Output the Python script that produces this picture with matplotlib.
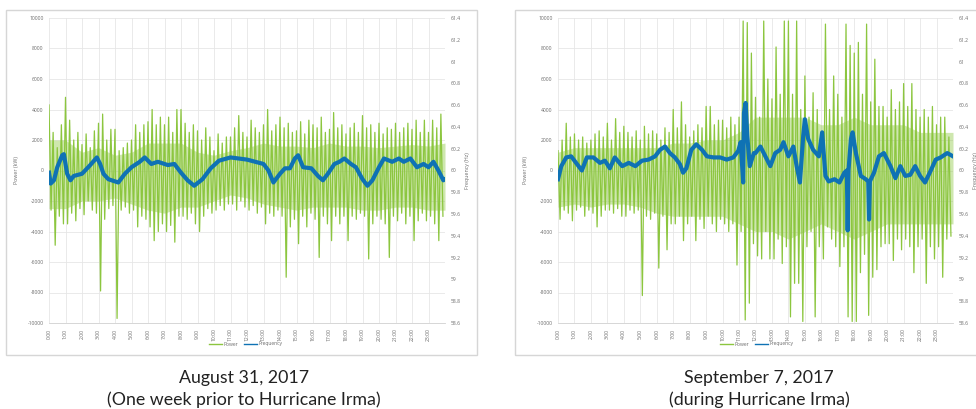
import numpy as np
import matplotlib
matplotlib.use("Agg")
import matplotlib.pyplot as plt
from matplotlib.patches import Rectangle
from matplotlib.lines import Line2D

plt.rcParams['font.family'] = ['Open Sans', 'DejaVu Sans']

# ---------------- data ----------------
hour_labels = [f"{h}:00" for h in range(24)]
power_ticks = [-10000, -8000, -6000, -4000, -2000, 0, 2000, 4000, 6000, 8000, 10000]
freq_ticks = [58.6, 58.8, 59.0, 59.2, 59.4, 59.6, 59.8, 60.0, 60.2, 60.4, 60.6, 60.8, 61.0, 61.2, 61.4]
core_hours = list(range(25))

# August 31 power peaks (every 15 min) and troughs (offset 7.5 min), kW
aug_power_high = [4300, 2500, 1500, 3000,  4800, 3300, 2000, 2500,  1700, 2400, 1500, 2600,
                  3100, 3700, 2000, 2700,  2700, 1300, 1500, 1800,  2000, 3000, 2500, 3000,
                  3200, 4000, 3000, 3500,  3000, 3500, 2500, 4000,  4000, 3100, 2500, 3000,
                  2600, 2000, 2800, 2200,  1300, 2400, 1800, 2200,  2200, 2800, 3600, 2500,
                  2200, 3300, 2800, 2500,  3000, 4000, 2600, 3000,  3500, 2800, 3100, 2500,
                  2600, 3200, 2400, 3300,  3000, 2800, 3500, 2500,  2700, 3800, 2800, 3000,
                  2400, 2800, 3100, 2500,  3600, 2800, 3000, 2500,  3100, 2400, 2800, 2700,
                  3100, 2500, 2800, 3100,  2700, 3300, 2500, 3300,  2500, 3300, 2800, 3700]
aug_power_low = [-2600, -4900, -3000, -3500,  -3500, -2800, -3300, -2500,  -2900, -2000, -2600, -2800,
                 -7900, -3200, -2500, -2300,  -9700, -2600, -2400, -2800,  -2600, -3700, -3000, -3200,
                 -3700, -4600, -4000, -3500,  -4000, -3600, -4700, -3000,  -3000, -3200, -2800, -3500,
                 -4000, -3000, -2500, -2800,  -2600, -2300, -2600, -2200,  -2200, -2600, -2000, -2400,
                 -2600, -2300, -2800, -2400,  -3500, -2800, -3000, -2600,  -3000, -7000, -3700, -3200,
                 -4800, -3000, -3700, -2800,  -3200, -5700, -3000, -3500,  -4600, -3000, -3500, -3000,
                 -4600, -3000, -3200, -2800,  -3000, -5800, -3500, -3000,  -3200, -3500, -5700, -3000,
                 -3300, -2800, -3500, -3000,  -4600, -3300, -2800, -3300,  -3000, -3500, -4600, -3000]
# dense core of the power trace, hourly
aug_core_upper = [2000, 2000, 1200, 1500, 1000, 1200, 1800, 1800, 1800, 1200, 1000, 1300, 1500,
                  1800, 1600, 1600, 1500, 1800, 1600, 1600, 1500, 1600, 1700, 1600, 1800]
aug_core_lower = [-2500, -2500, -2000, -2000, -1800, -2200, -2600, -2800, -2400, -2400, -2000, -1600,
                  -1800, -2200, -2400, -2600, -2400, -2400, -2400, -2600, -2600, -2400, -2400, -2600, -2600]

# September 7 power
sep_power_high = [1300, 2000, 3100, 2200,  2400, 2000, 2200, 1800,  2000, 2400, 2600, 2200,
                  3100, 2000, 3400, 2500,  2900, 2500, 2200, 2600,  2000, 2900, 2400, 2600,
                  2400, 2000, 2800, 2500,  4000, 2800, 4500, 3000,  2200, 2600, 3000, 2800,
                  4200, 4200, 3000, 3300,  3300, 2800, 3500, 3000,  3500, 9800, 9700, 7700,
                  4800, 3500, 9800, 6000,  4700, 8100, 5000, 9800,  9800, 5000, 9800, 4000,
                  6200, 3500, 5100, 4000,  1600, 9600, 4000, 6200,  5000, 3500, 9600, 8200,
                  7700, 8400, 5000, 9600,  4500, 7300, 4200, 4200,  3500, 5300, 4000, 4500,
                  5700, 4200, 5700, 4000,  3500, 4000, 3500, 4200,  3000, 3500, 3500, 2200]
sep_power_low = [-3200, -2600, -2800, -3300,  -2600, -2400, -3000, -2600,  -2800, -3700, -3000, -2600,
                 -2600, -2800, -2500, -3000,  -3000, -2600, -2800, -2600,  -8200, -3000, -3200, -2800,
                 -6400, -3000, -5200, -3500,  -3500, -3000, -4600, -3500,  -3000, -4600, -3200, -3800,
                 -3000, -3500, -4000, -3200,  -3500, -4000, -3500, -6200,  -4000, -9800, -8700, -4800,
                 -5600, -5800, -4000, -5800,  -5800, -4500, -6100, -5000,  -9600, -7400, -7400, -9900,
                 -5000, -4000, -9600, -5000,  -5800, -3700, -4500, -5000,  -6300, -5000, -9600, -9900,
                 -9900, -6700, -5500, -9500,  -7000, -6500, -5000, -4800,  -4800, -5900, -4500, -5200,
                 -4500, -5000, -6700, -5000,  -4500, -7400, -5000, -5800,  -5000, -7000, -4500, -4300]
sep_core_upper = [1200, 1500, 1500, 1500, 1500, 1500, 1500, 1800, 1800, 2000, 2000, 2500, 3500,
                  3500, 3500, 3500, 3000, 3000, 3500, 3000, 3000, 3000, 2500, 2500, 2500]
sep_core_lower = [-2400, -2200, -2400, -2200, -2200, -2400, -2800, -3000, -3000, -3000, -3000, -3500,
                  -4000, -4000, -4500, -4000, -3500, -4000, -4500, -4000, -3500, -3500, -3500, -3500, -3500]

# Frequency (Hz) read at these hours
aug_freq_hours = [0.0, 0.1, 0.3, 0.5, 0.8, 0.9, 1.1, 1.3, 1.5, 2.0, 2.5, 2.9, 3.1, 3.3, 3.6, 4.2,
                  4.6, 5.0, 5.5, 5.8, 6.2, 6.6, 7.2, 7.6, 8.0, 8.4, 8.8, 9.3, 9.8, 10.3, 11.0, 11.5,
                  12.0, 12.5, 13.0, 13.3, 13.6, 14.0, 14.3, 14.6, 14.9, 15.1, 15.4, 15.9, 16.3, 16.6,
                  16.9, 17.3, 17.6, 17.9, 18.3, 18.6, 19.0, 19.3, 19.6, 20.0, 20.3, 20.8, 21.2, 21.5,
                  21.9, 22.3, 22.7, 23.0, 23.3, 23.6, 23.9, 24.0]
aug_freq = [59.98, 59.88, 59.91, 60.03, 60.14, 60.15, 59.97, 59.91, 59.95, 59.97, 60.05, 60.12, 60.06,
            59.97, 59.92, 59.89, 59.97, 60.03, 60.08, 60.12, 60.06, 60.08, 60.05, 60.06, 59.98, 59.91,
            59.86, 59.92, 60.02, 60.09, 60.12, 60.11, 60.10, 60.08, 60.06, 60.00, 59.89, 59.97, 60.02,
            60.02, 60.11, 60.14, 60.03, 60.02, 59.95, 59.91, 59.97, 60.06, 60.08, 60.11, 60.06, 60.03,
            59.92, 59.86, 59.91, 60.03, 60.11, 60.08, 60.11, 60.08, 60.11, 60.03, 60.06, 60.03, 60.08,
            60.00, 59.91, 59.92]

sep_freq_hours = [0.0, 0.2, 0.5, 0.8, 1.1, 1.45, 1.75, 2.15, 2.55, 2.85, 3.15, 3.45, 3.9, 4.3, 4.7,
                  5.1, 5.5, 5.9, 6.2, 6.5, 6.8, 7.1, 7.4, 7.6, 7.8, 8.1, 8.4, 8.75, 9.05, 9.45, 9.85,
                  10.25, 10.65, 10.95, 11.1, 11.25, 11.3, 11.4, 11.5, 11.65, 11.9, 12.0, 12.3, 12.6,
                  12.9, 13.2, 13.5, 13.7, 14.0, 14.3, 14.5, 14.7, 14.9, 15.0, 15.2, 15.5, 15.85, 16.05,
                  16.25, 16.45, 16.8, 17.1, 17.4, 17.55, 17.6, 17.65, 17.8, 17.9, 18.1, 18.4, 18.7,
                  18.85, 18.9, 18.95, 19.2, 19.5, 19.8, 20.2, 20.5, 20.8, 21.1, 21.4, 21.7, 22.0, 22.3,
                  22.65, 22.95, 23.25, 23.65, 24.0]
sep_freq = [59.92, 60.04, 60.12, 60.13, 60.07, 60.00, 60.12, 60.12, 60.07, 60.09, 60.02, 60.12, 60.04,
            60.07, 60.04, 60.09, 60.10, 60.13, 60.19, 60.22, 60.16, 60.12, 60.06, 59.98, 60.02, 60.19,
            60.24, 60.19, 60.13, 60.12, 60.12, 60.10, 60.12, 60.18, 60.26, 59.89, 60.53, 60.62, 60.32,
            60.04, 60.16, 60.16, 60.22, 60.13, 60.04, 60.16, 60.19, 60.26, 60.13, 60.22, 60.04, 59.89,
            60.32, 60.47, 60.29, 60.19, 60.13, 60.35, 59.95, 59.90, 59.92, 59.89, 59.98, 60.00, 59.45,
            60.00, 60.29, 60.35, 60.16, 59.95, 59.92, 59.90, 59.55, 59.90, 59.98, 60.13, 60.16, 60.04,
            59.93, 60.04, 59.95, 59.96, 60.04, 59.95, 59.89, 60.00, 60.10, 60.12, 60.16, 60.13]

panels = [
    (["August 31, 2017", "(One week prior to Hurricane Irma)"], aug_power_high, aug_power_low,
     aug_core_upper, aug_core_lower, aug_freq_hours, aug_freq),
    (["September 7, 2017", "(during Hurricane Irma)"], sep_power_high, sep_power_low,
     sep_core_upper, sep_core_lower, sep_freq_hours, sep_freq),
]

# ---------------- style ----------------
GREEN = "#8cc63f"
BLUE = "#0f72b4"
GRID = "#e6e6e6"
TXT = "#6b6b6b"

W, H = 976, 409
fig = plt.figure(figsize=(W / 100, H / 100), dpi=100)
fig.patch.set_facecolor("white")

def fx(px):
    return px / W

def fy(py):
    return 1 - py / H

axes_px = [(49, 445), (558, 953)]
box_px = [(6, 477), (515, 990)]
caption_x = [244, 759]
legend_x = [246, 757]

for i, (caption, p_high, p_low, c_up, c_low, f_hours, f_vals) in enumerate(panels):
    x0, x1 = axes_px[i]
    bx0, bx1 = box_px[i]
    fig.patches.append(Rectangle((fx(bx0), fy(355)), fx(bx1 - bx0), (355 - 10) / H,
                                 transform=fig.transFigure, fill=False,
                                 edgecolor="#d6d6d6", linewidth=1.0, zorder=0))
    ax = fig.add_axes([fx(x0), fy(323), fx(x1 - x0), (323 - 18) / H])
    ax2 = ax.twinx()

    n = len(p_high)
    t = np.empty(2 * n)
    v = np.empty(2 * n)
    t[0::2] = np.arange(n) * 0.25
    t[1::2] = np.arange(n) * 0.25 + 0.125
    v[0::2] = p_high
    v[1::2] = p_low
    ax.fill_between(core_hours, c_low, c_up, color=GREEN, alpha=0.42, linewidth=0, zorder=2)
    ax.plot(t, v, color=GREEN, linewidth=0.9, zorder=3)

    ax2.plot(f_hours, f_vals, color=BLUE, linewidth=3.0, solid_joinstyle="round", zorder=4)

    ax.set_xlim(0, 24)
    ax.set_ylim(-10000, 10000)
    ax2.set_ylim(58.6, 61.4)
    ax.set_xticks(range(24))
    ax.set_xticklabels(hour_labels, rotation=90, fontsize=3.6, color=TXT)
    ax.set_yticks(power_ticks)
    ax.set_yticklabels([str(p) for p in power_ticks], fontsize=3.6, color=TXT)
    ax2.set_yticks(freq_ticks)
    ax2.set_yticklabels([f"{f:g}" for f in freq_ticks], fontsize=3.6, color=TXT)
    ax.grid(True, color=GRID, linewidth=0.6, zorder=0)
    ax.set_axisbelow(True)
    for a in (ax, ax2):
        for s in a.spines.values():
            s.set_visible(False)
        a.tick_params(length=0, pad=4)
    ax.spines["bottom"].set_visible(True)
    ax.spines["bottom"].set_color("#d0d0d0")
    ax.spines["bottom"].set_linewidth(0.6)
    ax.set_ylabel("Power (kW)", fontsize=3.8, color=TXT, labelpad=6)
    ax2.set_ylabel("Frequency (Hz)", fontsize=3.8, color=TXT, labelpad=3)

    handles = [Line2D([], [], color=GREEN, linewidth=1.0), Line2D([], [], color=BLUE, linewidth=1.0)]
    fig.legend(handles, ["Power", "Frequency"], loc="center", bbox_to_anchor=(fx(legend_x[i]), fy(344)),
               ncol=2, frameon=False, fontsize=3.6, handlelength=2.5, columnspacing=1.2,
               handletextpad=0.4, labelcolor=TXT)

    for j, line in enumerate(caption):
        fig.text(fx(caption_x[i]), fy(378 + 22 * j), line, ha="center", va="center", fontsize=12.8,
                 color="#222222", family=["Lato", "DejaVu Sans"])

fig.savefig("out.png", dpi=100, facecolor="white")
